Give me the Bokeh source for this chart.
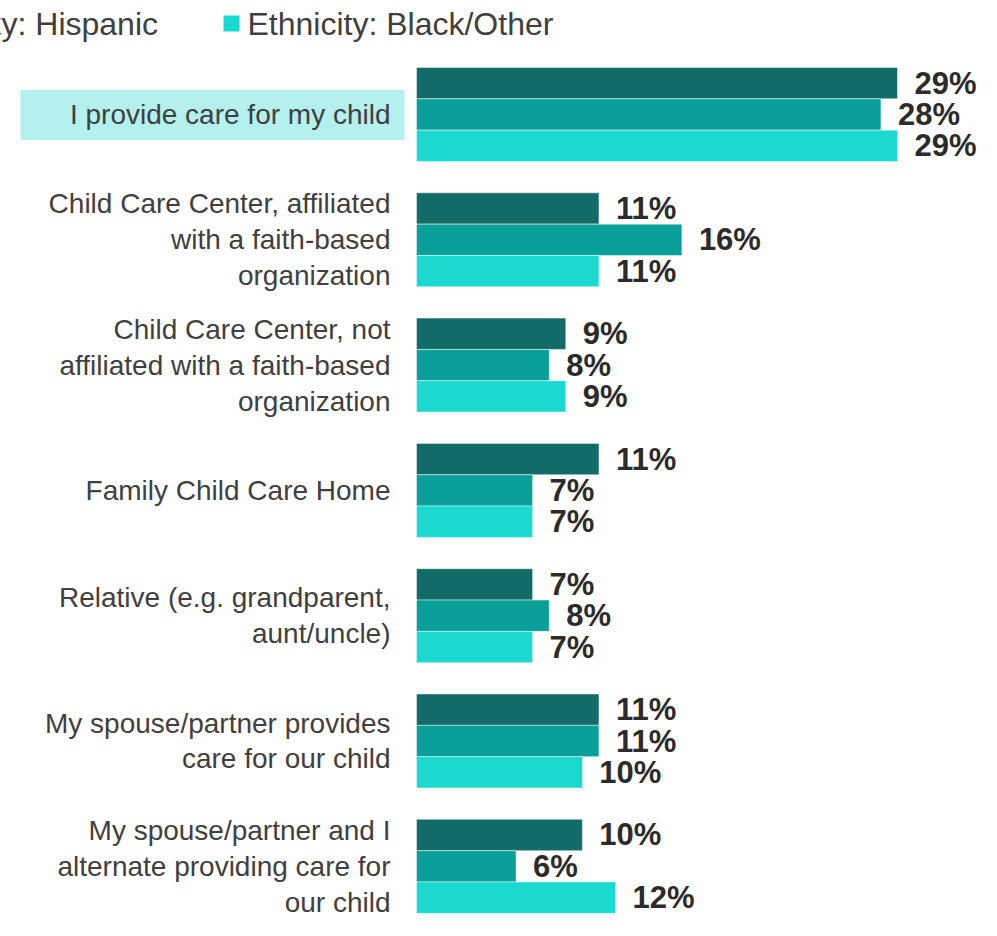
from bokeh.plotting import figure
from bokeh.models import Range1d, ColumnDataSource
from bokeh.core.properties import value
from bokeh.embed import file_html
from bokeh.resources import INLINE

# ---------------- data ----------------
categories = [
    "I provide care for my child",
    "Child Care Center, affiliated\nwith a faith-based\norganization",
    "Child Care Center, not\naffiliated with a faith-based\norganization",
    "Family Child Care Home",
    "Relative (e.g. grandparent,\naunt/uncle)",
    "My spouse/partner provides\ncare for our child",
    "My spouse/partner and I\nalternate providing care for\nour child",
]
highlighted_category = "I provide care for my child"

# first series: its legend entry is cropped out of the reference
series1_values = [29, 11, 9, 11, 7, 11, 10]
hispanic_values = [28, 16, 8, 7, 8, 11, 6]
black_other_values = [29, 11, 9, 7, 7, 10, 12]

legend_labels = ["Ethnicity: Hispanic", "Ethnicity: Black/Other"]

# ---------------- style / layout ----------------
W, H = 981, 920
BAR_X0 = 416.0          # canvas px of the 0 % line
PX_PER_PCT = 16.586     # px per percentage point
GROUP_Y0 = 114.0        # canvas px of the first group's centre
PX_PER_GROUP = 125.3    # px between groups
BAR_H = 0.25            # bar thickness in group units
OFFSETS = [-0.25, 0.0, 0.25]
COLORS = ["#136b68", "#0b9f9a", "#1bd9cf"]
HIGHLIGHT = "#b4f1ee"
FONT = value("Liberation Sans")


def cx(px):
    return (px - BAR_X0) / PX_PER_PCT


def cy(py):
    return (py - GROUP_Y0) / PX_PER_GROUP


p = figure(
    width=W, height=H,
    x_range=Range1d(cx(0), cx(W)),
    y_range=Range1d(cy(H), cy(0)),
    output_backend="svg", toolbar_location=None,
    x_axis_location=None, y_axis_location=None,
    min_border=0, outline_line_color=None,
    background_fill_color="white", border_fill_color="white",
)
p.grid.visible = False

# highlight box behind the first category label
hi = categories.index(highlighted_category)
p.quad(left=cx(20), right=cx(404),
       bottom=hi + 25.5 / PX_PER_GROUP, top=hi - 24.5 / PX_PER_GROUP,
       fill_color=HIGHLIGHT, line_color=None)

# bars
ys_base = list(range(len(categories)))
for vals, color, off in zip([series1_values, hispanic_values, black_other_values], COLORS, OFFSETS):
    ys = [y + off for y in ys_base]
    src = ColumnDataSource(dict(y=ys, v=vals, lab=[f"{v}%" for v in vals]))
    p.hbar(y="y", left=0, right="v", height=BAR_H, source=src,
           fill_color=color, line_color="white", line_alpha=0.45, line_width=1)
    p.text(x="v", y="y", text="lab", source=src, x_offset=17,
           text_align="left", text_baseline="middle",
           text_font=FONT, text_font_style="bold", text_font_size="31px",
           text_color="#2b2b2b")

# category labels
p.text(x=[0] * len(categories), y=ys_base, text=categories, x_offset=-26,
       text_align="right", text_baseline="middle",
       text_font=FONT, text_font_size="28px", text_line_height=1.16,
       text_color="#404040")

# legend (left part cropped, as in the reference)
leg_y = cy(23)
p.rect(x=[cx(-120), cx(231)], y=[leg_y, leg_y], width=16, height=16,
       width_units="screen", height_units="screen",
       fill_color=COLORS[1:], line_color=None)
p.text(x=[cx(157.5)], y=[leg_y], text=[legend_labels[0]],
       text_align="right", text_baseline="middle",
       text_font=FONT, text_font_size="32px", text_color="#404040")
p.text(x=[cx(247)], y=[leg_y], text=[legend_labels[1]],
       text_align="left", text_baseline="middle",
       text_font=FONT, text_font_size="32px", text_color="#404040")

open("out.html", "w").write(file_html(p, INLINE))
